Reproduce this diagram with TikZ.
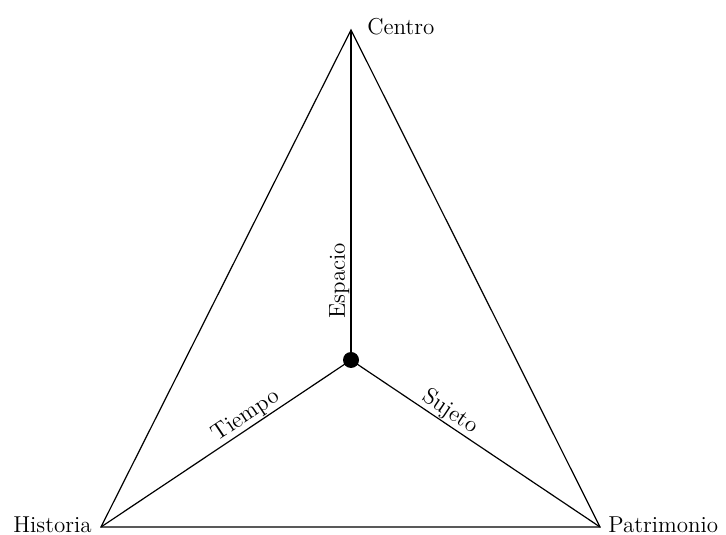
\documentclass[tikz,border=0pt]{standalone}
\usepackage{tikz}
\tikzstyle{edge} = [line width=0.6pt]
\tikzstyle{vlabel} = [inner sep=0pt, font=\fontsize{11.5}{13}\selectfont]
\tikzstyle{elabel} = [sloped, above, inner sep=0.5pt, font=\fontsize{11.5}{13}\selectfont]

\begin{document}
\begin{tikzpicture}[x=0.5pt,y=0.5pt]
\useasboundingbox (0,0) rectangle (726,534);

%Corners [triangle]
\coordinate (centro) at (351,504);
\coordinate (historia) at (101,7);
\coordinate (patrimonio) at (600,7);
%Shape: Circle [middle point]
\node (nucleo) [circle, fill=black, minimum size=8pt, inner sep=0pt] at (351,174) {};

%Shape: Triangle
\draw [edge] (centro) -- (historia) -- (patrimonio) -- cycle;
%Straight Lines [spokes]
\draw [edge] (nucleo.center) -- node [elabel, pos=0.24] {Espacio} (centro);
\draw [edge] (historia) -- node [elabel, pos=0.606] {Tiempo} (nucleo.center);
\draw [edge] (nucleo.center) -- node [elabel, pos=0.371] {Sujeto} (patrimonio);

% Text Node
\node (tcentro) [vlabel, anchor=base west] at (367,499) {Centro};
% Text Node
\node (thistoria) [vlabel, anchor=base east] at (92,2) {Historia};
% Text Node
\node (tpatrimonio) [vlabel, anchor=base west] at (608,2) {Patrimonio};

\end{tikzpicture}
\end{document}
